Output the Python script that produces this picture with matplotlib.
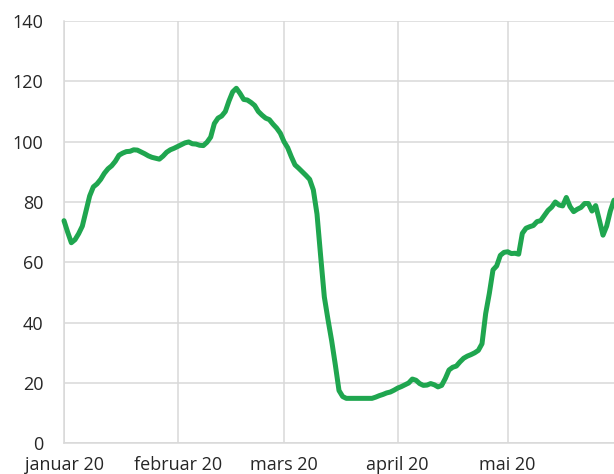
import matplotlib
matplotlib.use("Agg")
import matplotlib.pyplot as plt
import pandas as pd

plt.rcParams['font.family'] = ['Open Sans', 'DejaVu Sans']

start_date = "2020-01-01"
values = [
    73.8, 70.0, 66.5, 67.5, 69.5, 72.0, 77.0, 82.0, 85.0, 86.0,
    87.5, 89.5, 91.0, 92.0, 93.5, 95.5, 96.2, 96.7, 96.8, 97.3,
    97.2, 96.6, 96.0, 95.3, 94.8, 94.5, 94.2, 95.2, 96.5, 97.3,
    97.8, 98.4, 99.0, 99.6, 99.9, 99.3, 99.2, 98.8, 98.7, 99.8,
    101.5, 106.0, 107.8, 108.5, 110.0, 113.5, 116.5, 117.7, 116.0, 114.0,
    113.8, 113.0, 112.0, 110.0, 108.8, 107.8, 107.3, 105.8, 104.5, 102.8,
    100.0, 98.0, 95.0, 92.3, 91.2, 90.0, 88.8, 87.5, 84.0, 76.0,
    62.0, 48.5, 41.0, 34.0, 26.0, 17.5, 15.5, 14.9, 14.9, 14.9,
    14.9, 14.9, 14.9, 14.9, 14.9, 15.3, 15.8, 16.2, 16.7, 17.0,
    17.6, 18.3, 18.8, 19.4, 20.0, 21.3, 20.9, 19.8, 19.2, 19.3,
    19.8, 19.4, 18.7, 19.2, 21.5, 24.3, 25.2, 25.6, 27.0, 28.2,
    28.9, 29.4, 30.0, 30.8, 33.0, 43.0, 49.7, 57.5, 58.8, 62.3,
    63.3, 63.5, 62.9, 63.0, 62.7, 69.6, 71.3, 71.8, 72.2, 73.5,
    73.8, 75.5, 77.2, 78.3, 80.0, 79.0, 78.7, 81.5, 78.5, 76.8,
    77.6, 78.2, 79.5, 79.5, 77.0, 78.8, 74.0, 69.0, 72.0, 77.0,
    80.6,
]
dates = pd.date_range(start_date, periods=len(values), freq="D")

tick_dates = pd.to_datetime(["2020-01-01", "2020-02-01", "2020-03-01", "2020-04-01", "2020-05-01"])
tick_labels = ["januar 20", "februar 20", "mars 20", "april 20", "mai 20"]
y_ticks = [0, 20, 40, 60, 80, 100, 120, 140]

fig = plt.figure(figsize=(6.14, 4.74), dpi=100)
ax = fig.add_axes([64/614, 1 - 443.3/474, 1 - 64/614, (443.3 - 21)/474])

ax.plot(dates, values, color="#1fa64f", linewidth=3.6, solid_joinstyle="round",
        solid_capstyle="round", zorder=3, clip_on=False)

ax.set_xlim(dates[0], dates[-1])
ax.set_ylim(0, 140)
ax.set_yticks(y_ticks)
ax.set_xticks(tick_dates)
ax.set_xticklabels(tick_labels)

grid_c = "#d9d9d9"
ax.grid(True, color=grid_c, linewidth=1.1)
ax.set_axisbelow(True)
for s in ["top", "right"]:
    ax.spines[s].set_visible(False)
for s in ["left", "bottom"]:
    ax.spines[s].set_color(grid_c)
    ax.spines[s].set_linewidth(1.1)

ax.tick_params(axis="both", length=0, labelsize=13, labelcolor="#262626")
ax.tick_params(axis="y", pad=15)
ax.tick_params(axis="x", pad=9)

fig.savefig("out.png", dpi=100)
